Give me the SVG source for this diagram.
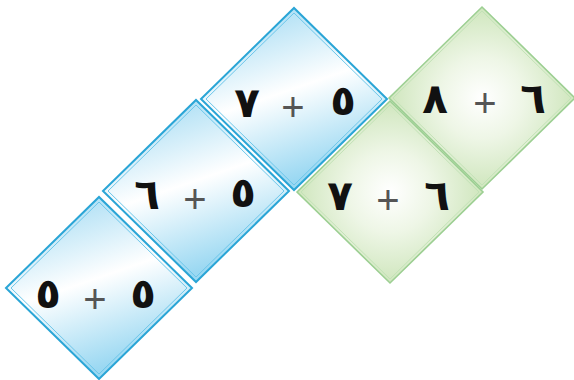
<svg xmlns="http://www.w3.org/2000/svg" xmlns:xlink="http://www.w3.org/1999/xlink" width="574" height="380" viewBox="0 0 574 380">
  <defs>
    <linearGradient id="gBlue" x1="0" y1="0" x2="0.35" y2="1">
      <stop offset="0" stop-color="#94d5f1"/>
      <stop offset="0.55" stop-color="#ffffff"/>
      <stop offset="1" stop-color="#9ad8f2"/>
    </linearGradient>
    <radialGradient id="gGreen" cx="0.5" cy="0.5" r="0.5">
      <stop offset="0" stop-color="#ffffff"/>
      <stop offset="0.45" stop-color="#eef6e6"/>
      <stop offset="1" stop-color="#cfe6bd"/>
    </radialGradient>
    <g id="blueTile">
      <polygon points="-93,0 0,-91 93,0 0,91" fill="url(#gBlue)" stroke="#2aa5d6" stroke-width="2"/>
      <polygon points="-88,0 0,-86 88,0 0,86" fill="none" stroke="#6cc6ea" stroke-width="1"/>
    </g>
    <g id="greenTile">
      <polygon points="-93,0 0,-91 93,0 0,91" fill="url(#gGreen)" stroke="#9ccf92" stroke-width="1.6"/>
      <polygon points="-89,0 0,-87 89,0 0,87" fill="none" stroke="#c2e2b6" stroke-width="1"/>
    </g>
  </defs>
  <style>
    .d { font-family: "DejaVu Sans", sans-serif; font-weight: bold; font-size: 42px; fill: #111; text-anchor: middle; }
    .p { font-family: "Liberation Sans", sans-serif; font-size: 40px; fill: #555; text-anchor: middle; }
  </style>
  <rect width="574" height="380" fill="#ffffff"/>
  <g id="tile-5-5">
    <use xlink:href="#blueTile" transform="translate(99,288)"/>
    <text class="d" x="48" y="308">٥</text>
    <text class="p" x="95" y="313">+</text>
    <text class="d" x="143" y="308">٥</text>
  </g>
  <g id="tile-6-5">
    <use xlink:href="#blueTile" transform="translate(196,191)"/>
    <text class="d" x="147" y="209">٦</text>
    <text class="p" x="195" y="213">+</text>
    <text class="d" x="243" y="207">٥</text>
  </g>
  <g id="tile-7-5">
    <use xlink:href="#blueTile" transform="translate(294,99)"/>
    <text class="d" x="247" y="117">٧</text>
    <text class="p" x="293" y="121">+</text>
    <text class="d" x="343" y="115">٥</text>
  </g>
  <g id="tile-7-6">
    <use xlink:href="#greenTile" transform="translate(390,192)"/>
    <text class="d" x="340" y="210">٧</text>
    <text class="p" x="388" y="214">+</text>
    <text class="d" x="437" y="210">٦</text>
  </g>
  <g id="tile-8-6">
    <use xlink:href="#greenTile" transform="translate(482,98)"/>
    <text class="d" x="435" y="113">٨</text>
    <text class="p" x="485" y="117">+</text>
    <text class="d" x="533" y="113">٦</text>
  </g>
  <g id="connectors"/>
</svg>
